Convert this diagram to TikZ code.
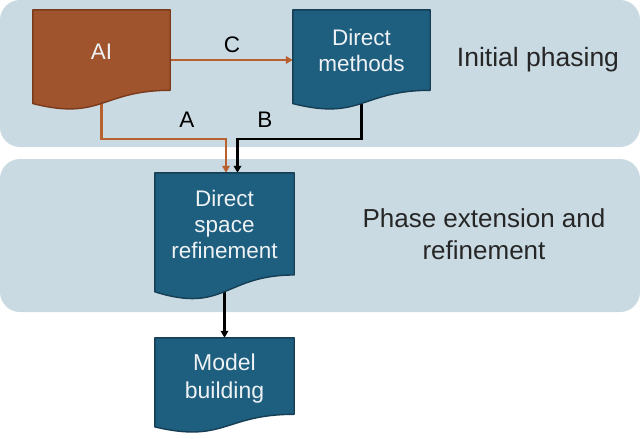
\documentclass[tikz,border=0pt]{standalone}
\usepackage{fontspec}
\setmainfont{Liberation Sans}
\usetikzlibrary{calc,arrows.meta}
\definecolor{bandc}{HTML}{C9DAE2}
\definecolor{brownf}{HTML}{A0542E}
\definecolor{brownd}{HTML}{7A3A1C}
\definecolor{bluef}{HTML}{1E5E7E}
\definecolor{blued}{HTML}{163E54}
\definecolor{oline}{HTML}{B8602E}
\definecolor{boxtxt}{HTML}{EEF2F5}
\newcommand\docshape[3]{%
  \draw[#3, line width=1.4pt, fill=#2, line join=round]
    (#1.north west) -- (#1.north east)
    -- ($(#1.north east)!0.802!(#1.south east)$)
    .. controls ($(#1.north)!0.802!(#1.south)$) and ($(#1.north)!1.1075!(#1.south)$) ..
    ($(#1.north west)!0.934!(#1.south west)$) -- cycle;}
\tikzset{
  docbox/.style={rectangle, draw=none, inner sep=0pt, minimum width=137pt},
  boxtext/.style={align=center, text=boxtxt, font=\fontsize{22.5}{26}\selectfont, inner sep=0pt},
  bandtext/.style={align=center, text=black!85, font=\fontsize{26.5}{32}\selectfont, inner sep=0pt},
  lab/.style={text=black, font=\fontsize{22.5}{24}\selectfont, inner sep=0pt},
  band/.style={fill=bandc, rounded corners=20pt},
  oarrow/.style={draw=oline, line width=2.3pt, -{Triangle[length=7pt,width=7.5pt]}},
  karrow/.style={draw=black, line width=2.3pt, -{Triangle[length=7pt,width=7.5pt]}},
}
\begin{document}
\begin{tikzpicture}[x=1pt,y=-1pt]
\useasboundingbox (0,0) rectangle (640,439);
\fill[white] (0,0) rectangle (640,439);
% bands
\path[band] (0,0) rectangle (640,147);
\path[band] (0,159) rectangle (640,312);
\node[bandtext] (ip) at (538,60) {Initial phasing};
\node[bandtext, font=\fontsize{26}{32}\selectfont] (pe) at (484,234) {Phase extension and\\refinement};
% box placeholders
\node[docbox, minimum height=100pt] (ai) at (101.5,60) {};
\node[docbox, minimum height=100pt] (dm) at (361.5,60) {};
\node[docbox, minimum width=139pt, minimum height=127pt] (dsr) at (224.5,236.5) {};
\node[docbox, minimum width=139pt, minimum height=95pt] (mb) at (224.5,385.5) {};
% connectors
\coordinate (aIn) at ([xshift=1.5pt]dsr.north);
\coordinate (bIn) at ([xshift=13pt]dsr.north);
\draw[oarrow] (ai.center) |- (aIn |- 0,139) -- (aIn);
\draw[karrow] (dm.center) |- (bIn |- 0,139) -- (bIn);
\draw[oarrow] (ai.east) -- (dm.west);
\draw[karrow] (dsr.center) -- (mb.north);
% shapes
\docshape{ai}{brownf}{brownd}
\docshape{dm}{bluef}{blued}
\docshape{dsr}{bluef}{blued}
\docshape{mb}{bluef}{blued}
% texts
\node[boxtext] (aiT) at (101.5,52) {AI};
\node[boxtext] (dmT) at (361.5,50) {Direct\\methods};
\node[boxtext] (dsrT) at (224.5,224) {Direct\\space\\refinement};
\node[boxtext, font=\fontsize{23}{28}\selectfont] (mbT) at (224.5,379) {Model\\building};
% labels
\node[lab] (lC) at (232,45) {C};
\node[lab] (lA) at (187,120) {A};
\node[lab] (lB) at (265,120) {B};
\end{tikzpicture}
\end{document}
